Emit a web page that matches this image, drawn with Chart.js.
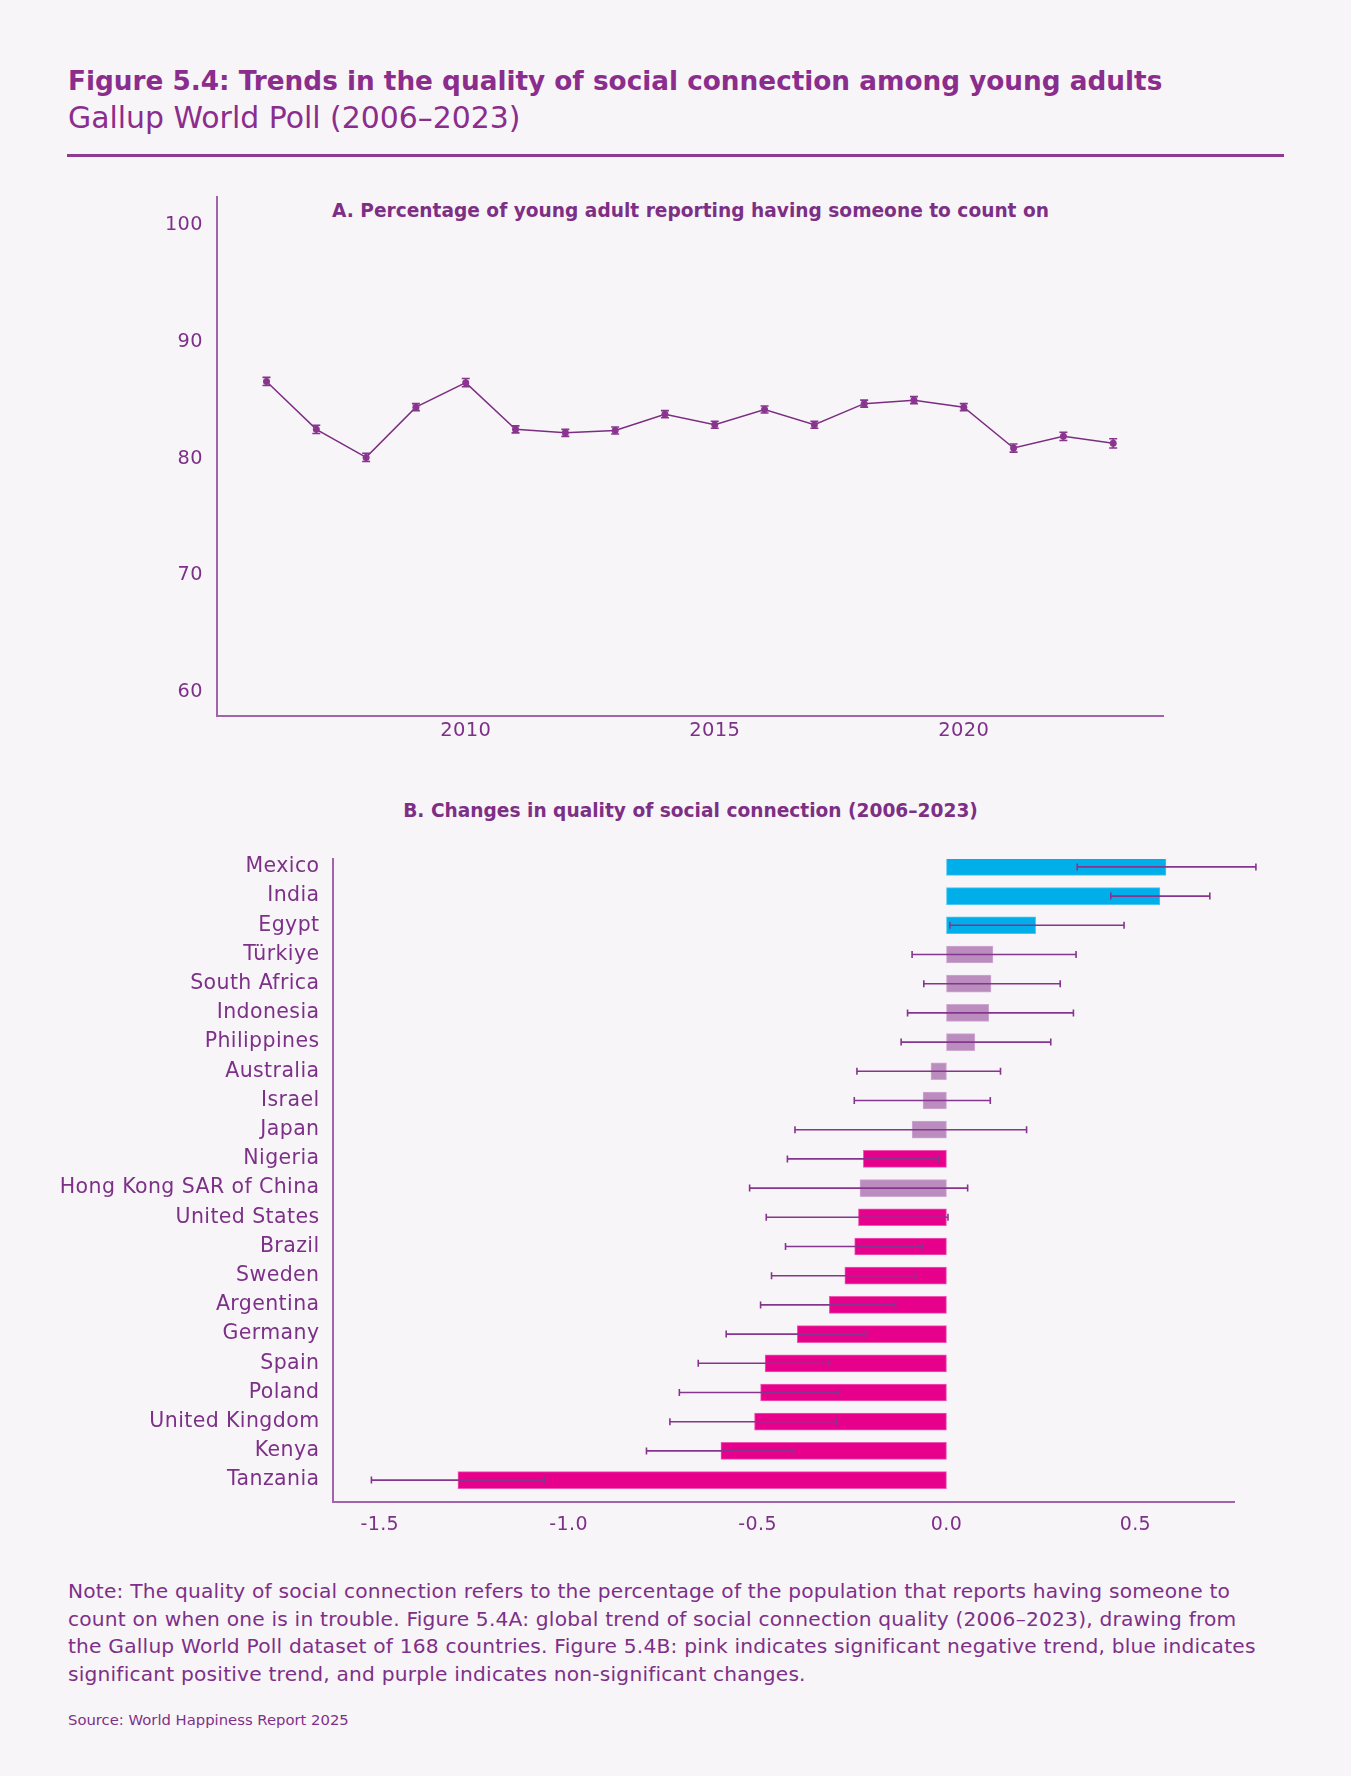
<!DOCTYPE html>
<html lang="en">
<head>
  <meta charset="UTF-8" />
  <title>Figure 5.4</title>
  <script src="https://cdn.jsdelivr.net/npm/chart.js"></script>
  <style>
    html, body {
      margin: 0;
      background: #f8f5f9;
      font-family: 'DejaVu Sans', sans-serif;
      color: #7d3088;
    }
    .page {
      position: relative;
      width: 1351px;
      height: 1776px;
      overflow: hidden;
    }
    .title {
      position: absolute;
      left: 68px;
      top: 66px;
      font-size: 26.3px;
      font-weight: 700;
      color: #8a2d8c;
      white-space: nowrap;
    }
    .subtitle {
      position: absolute;
      left: 68px;
      top: 100px;
      font-size: 29.9px;
      font-weight: 400;
      color: #8a2d8c;
      white-space: nowrap;
    }
    .rule {
      position: absolute;
      left: 67px;
      top: 154px;
      width: 1217px;
      height: 3px;
      background: #8f3a93;
    }
    .panel-title {
      position: absolute;
      left: 0;
      width: 1381px;
      text-align: center;
      font-size: 18.6px;
      font-weight: 700;
      color: #7d2f86;
    }
    .box {
      position: absolute;
    }
    .note {
      position: absolute;
      left: 68px;
      top: 1578px;
      font-size: 20.2px;
      letter-spacing: 0.2px;
      line-height: 27.5px;
      color: #7d3088;
      white-space: nowrap;
    }
    .source {
      position: absolute;
      left: 68px;
      top: 1711px;
      font-size: 14.8px;
      color: #7d3088;
    }
  </style>
</head>
<body>
<div class="page">
  <div class="title">Figure 5.4: Trends in the quality of social connection among young adults</div>
  <div class="subtitle">Gallup World Poll (2006–2023)</div>
  <div class="rule"></div>

  <div class="panel-title" style="top:200px">A. Percentage of young adult reporting having someone to count on</div>
  <div class="box" style="left:140px; top:170px; width:1060px; height:580px;">
    <canvas id="trendChart"></canvas>
  </div>

  <div class="panel-title" style="top:800px">B. Changes in quality of social connection (2006–2023)</div>
  <div class="box" style="left:20px; top:840px; width:1260px; height:720px;">
    <canvas id="changeChart"></canvas>
  </div>

  <div class="note">
    Note: The quality of social connection refers to the percentage of the population that reports having someone to<br>
    count on when one is in trouble. Figure 5.4A: global trend of social connection quality (2006–2023), drawing from<br>
    the Gallup World Poll dataset of 168 countries. Figure 5.4B: pink indicates significant negative trend, blue indicates<br>
    significant positive trend, and purple indicates non-significant changes.
  </div>
  <div class="source">Source: World Happiness Report 2025</div>
</div>

<script>
  // Panel A: share of young adults with someone to count on (%)
  const years = [2006, 2007, 2008, 2009, 2010, 2011, 2012, 2013, 2014, 2015, 2016, 2017, 2018, 2019, 2020, 2021, 2022, 2023];
  const countOnPct = [86.6, 82.5, 80.1, 84.4, 86.5, 82.5, 82.2, 82.4, 83.8, 82.9, 84.2, 82.9, 84.7, 85.0, 84.4, 80.9, 81.9, 81.3];
  const countOnErr = [0.35, 0.35, 0.35, 0.3, 0.35, 0.3, 0.3, 0.3, 0.3, 0.3, 0.3, 0.3, 0.3, 0.3, 0.3, 0.35, 0.35, 0.4];
  const yearTicks = [2010, 2015, 2020];
  const pctTicks = [60, 70, 80, 90, 100];

  // Panel B: change in quality of social connection, with confidence interval
  const countries = ['Mexico', 'India', 'Egypt', 'Türkiye', 'South Africa', 'Indonesia', 'Philippines', 'Australia',
    'Israel', 'Japan', 'Nigeria', 'Hong Kong SAR of China', 'United States', 'Brazil', 'Sweden', 'Argentina',
    'Germany', 'Spain', 'Poland', 'United Kingdom', 'Kenya', 'Tanzania'];
  const change = [0.581, 0.565, 0.236, 0.123, 0.118, 0.112, 0.075, -0.041, -0.062, -0.091, -0.220, -0.229,
    -0.233, -0.243, -0.269, -0.310, -0.395, -0.480, -0.492, -0.508, -0.597, -1.293];
  const changeLow = [0.346, 0.435, 0.009, -0.091, -0.060, -0.103, -0.120, -0.237, -0.244, -0.401, -0.421, -0.521,
    -0.477, -0.426, -0.463, -0.492, -0.583, -0.657, -0.707, -0.732, -0.794, -1.522];
  const changeHigh = [0.819, 0.697, 0.470, 0.343, 0.301, 0.336, 0.276, 0.143, 0.116, 0.212, -0.021, 0.056,
    0.004, -0.064, -0.082, -0.135, -0.214, -0.310, -0.284, -0.291, -0.405, -1.064];
  // pos = significant positive, ns = not significant, neg = significant negative
  const significance = ['pos', 'pos', 'pos', 'ns', 'ns', 'ns', 'ns', 'ns', 'ns', 'ns', 'neg', 'ns',
    'neg', 'neg', 'neg', 'neg', 'neg', 'neg', 'neg', 'neg', 'neg', 'neg'];
  const changeTicks = [-1.5, -1.0, -0.5, 0.0, 0.5];

  const fillColors = { pos: '#00aeea', ns: '#bb8dbf', neg: '#e6008b' };
  const edgeColors = { pos: '#4cc6f0', ns: '#cfa9d2', neg: '#f057b0' };
  const axisColor = '#a163aa';
  const textColor = '#7d3088';
  const errColor = '#86358e';

  Chart.defaults.font.family = "'DejaVu Sans', sans-serif";
  Chart.defaults.color = textColor;
  Chart.defaults.animation = false;

  // a touch of letter spacing so canvas labels get the width of the original font
  const spacing = {
    id: 'spacing',
    beforeLayout(chart, args, opts) { chart.ctx.letterSpacing = opts.px + 'px'; },
    beforeDraw(chart, args, opts) { chart.ctx.letterSpacing = opts.px + 'px'; }
  };

  // draws the error bars for both panels from the low/high arrays
  const errorBars = {
    id: 'errorBars',
    afterDatasetsDraw(chart, args, opts) {
      const ctx = chart.ctx;
      const xs = chart.scales.x, ys = chart.scales.y;
      ctx.save();
      ctx.strokeStyle = errColor;
      ctx.lineWidth = 1.6;
      opts.low.forEach((lo, i) => {
        const hi = opts.high[i];
        ctx.beginPath();
        if (opts.horizontal) {
          const y = ys.getPixelForValue(i);
          const x1 = xs.getPixelForValue(lo), x2 = xs.getPixelForValue(hi);
          ctx.moveTo(x1, y); ctx.lineTo(x2, y);
          ctx.moveTo(x1, y - 3.5); ctx.lineTo(x1, y + 3.5);
          ctx.moveTo(x2, y - 3.5); ctx.lineTo(x2, y + 3.5);
        } else {
          const x = xs.getPixelForValue(years[i]);
          const y1 = ys.getPixelForValue(lo), y2 = ys.getPixelForValue(hi);
          ctx.moveTo(x, y1); ctx.lineTo(x, y2);
          ctx.moveTo(x - 4, y1); ctx.lineTo(x + 4, y1);
          ctx.moveTo(x - 4, y2); ctx.lineTo(x + 4, y2);
        }
        ctx.stroke();
      });
      ctx.restore();
    }
  };

  const noGrid = { display: false, drawTicks: false };

  new Chart(document.getElementById('trendChart'), {
    type: 'line',
    data: {
      datasets: [{
        data: years.map((y, i) => ({ x: y, y: countOnPct[i] })),
        borderColor: '#7b2d82',
        borderWidth: 1.5,
        pointRadius: 3.5,
        pointBackgroundColor: '#8e3590',
        pointBorderWidth: 0,
        tension: 0
      }]
    },
    plugins: [spacing, errorBars],
    options: {
      responsive: true,
      maintainAspectRatio: false,
      layout: { padding: { top: 27, right: 37, left: 0, bottom: 0 } },
      plugins: {
        legend: { display: false },
        tooltip: { enabled: false },
        spacing: { px: 0.3 },
        errorBars: {
          horizontal: false,
          low: countOnPct.map((v, i) => v - countOnErr[i]),
          high: countOnPct.map((v, i) => v + countOnErr[i])
        }
      },
      scales: {
        x: {
          type: 'linear',
          min: 2005,
          max: 2024,
          grid: noGrid,
          border: { color: axisColor, width: 2 },
          afterBuildTicks: s => { s.ticks = yearTicks.map(v => ({ value: v })); },
          afterFit: s => { s.height = 34; s.paddingLeft = 0; s.paddingRight = 0; },
          ticks: { padding: 3, font: { size: 19.5 }, color: textColor, callback: v => String(v) }
        },
        y: {
          min: 57.95,
          max: 102.4,
          grid: noGrid,
          border: { color: axisColor, width: 2 },
          afterBuildTicks: s => { s.ticks = pctTicks.map(v => ({ value: v })); },
          afterFit: s => { s.width = 76.7; s.paddingTop = 0; s.paddingBottom = 0; },
          ticks: { padding: 14, font: { size: 19.3 }, color: textColor }
        }
      }
    }
  });

  new Chart(document.getElementById('changeChart'), {
    type: 'bar',
    data: {
      datasets: [{
        data: countries.map((c, i) => ({ x: change[i], y: i })),
        backgroundColor: significance.map(s => fillColors[s]),
        borderColor: significance.map(s => edgeColors[s]),
        borderWidth: 1,
        borderSkipped: false,
        barThickness: 17
      }]
    },
    plugins: [spacing, errorBars],
    options: {
      indexAxis: 'y',
      responsive: true,
      maintainAspectRatio: false,
      layout: { padding: { top: 19, right: 46, left: 0, bottom: 0 } },
      plugins: {
        legend: { display: false },
        tooltip: { enabled: false },
        spacing: { px: 0.4 },
        errorBars: { horizontal: true, low: changeLow, high: changeHigh }
      },
      scales: {
        x: {
          type: 'linear',
          min: -1.625,
          max: 0.761,
          grid: noGrid,
          border: { color: axisColor, width: 2 },
          afterBuildTicks: s => { s.ticks = changeTicks.map(v => ({ value: v })); },
          afterFit: s => { s.height = 58; s.paddingLeft = 0; s.paddingRight = 0; },
          ticks: { padding: 12, font: { size: 19 }, color: textColor, callback: v => v.toFixed(1) }
        },
        y: {
          type: 'linear',
          reverse: true,
          offset: false,
          min: -0.27,
          max: 21.75,
          grid: noGrid,
          border: { color: axisColor, width: 2 },
          afterBuildTicks: s => { s.ticks = countries.map((c, i) => ({ value: i })); },
          afterFit: s => { s.width = 312.5; s.paddingTop = 0; s.paddingBottom = 0; },
          ticks: { padding: 13, font: { size: 20.5 }, color: textColor, callback: v => countries[v] }
        }
      }
    }
  });
</script>
</body>
</html>
